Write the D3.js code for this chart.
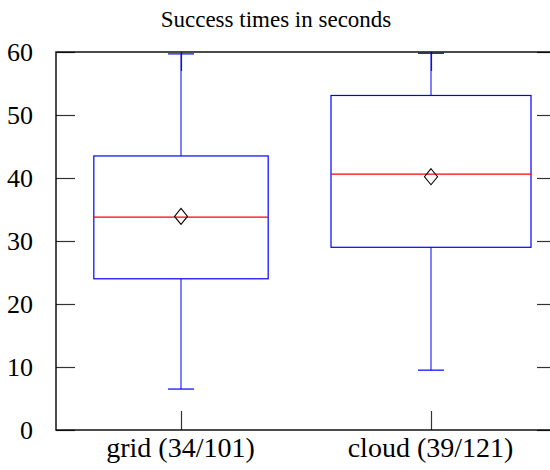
<!DOCTYPE html>
<html>
<head>
<meta charset="utf-8">
<script src="https://cdn.jsdelivr.net/npm/d3@7"></script>
<style>
  body { margin: 0; background: #fff; }
  svg text { font-family: "Liberation Serif", "DejaVu Serif", serif; }
</style>
</head>
<body>
<svg id="chart" width="550" height="470"></svg>
<script>
// Success times (seconds) per environment
const categories = ["grid", "cloud"];
const successes  = [34, 39];
const attempts   = [101, 121];
const whiskerLow  = [6.5, 9.5];
const quartile1   = [24.0, 29.0];
const medians     = [33.8, 40.6];
const quartile3   = [43.5, 53.1];
const whiskerHigh = [59.7, 59.8];
const means       = [33.9, 40.2];
const yTicks = [0, 10, 20, 30, 40, 50, 60];

const svg = d3.select("#chart");
const plotLeft = 56, plotRight = 556, plotTop = 52, plotBottom = 430;

const x = d3.scaleLinear().domain([0.5, categories.length + 0.5]).range([plotLeft, plotRight]);
const y = d3.scaleLinear().domain([0, 60]).range([plotBottom, plotTop]);

// box width scales with the number of successful runs
const maxN = d3.max(successes);
const boxHalf = i => 0.4 * successes[i] / maxN;
const capHalf = 0.052;

const data = categories.map((c, i) => ({
  i, pos: i + 1,
  label: `${c} (${successes[i]}/${attempts[i]})`,
  lo: whiskerLow[i], q1: quartile1[i], med: medians[i],
  q3: quartile3[i], hi: whiskerHigh[i], mean: means[i]
}));

// title
svg.append("text")
  .attr("x", 276).attr("y", 27)
  .attr("text-anchor", "middle")
  .attr("font-size", 23)
  .text("Success times in seconds");

// axes (ticks point inward)
const tickLen = 19;
const gl = svg.append("g").attr("transform", `translate(${plotLeft},0)`)
  .call(d3.axisLeft(y).tickValues(yTicks).tickSizeInner(-tickLen).tickSizeOuter(0).tickPadding(23));
const gr = svg.append("g").attr("transform", `translate(${plotRight},0)`)
  .call(d3.axisRight(y).tickValues(yTicks).tickSizeInner(-tickLen).tickSizeOuter(0).tickFormat(""));
const gb = svg.append("g").attr("transform", `translate(0,${plotBottom})`)
  .call(d3.axisBottom(x).tickValues(data.map(d => d.pos)).tickSizeInner(-tickLen).tickSizeOuter(0)
    .tickFormat((v, k) => data[k].label));
const gt = svg.append("g").attr("transform", `translate(0,${plotTop})`)
  .call(d3.axisTop(x).tickValues(data.map(d => d.pos)).tickSizeInner(-tickLen).tickSizeOuter(0).tickFormat(""));

[gl, gr, gb, gt].forEach(g => {
  g.select(".domain").remove();
  g.selectAll(".tick line").attr("stroke", "#333").attr("stroke-width", 1.2);
});
gl.selectAll(".tick text").attr("font-size", 26).attr("fill", "#000").attr("dy", "0.31em");
gb.selectAll(".tick text").attr("font-size", 28).attr("fill", "#000")
  .attr("y", 27).attr("dy", 0).attr("x", -1);

const blue = "#0000ff";

const boxes = svg.append("g").selectAll("g").data(data).join("g");

// whiskers
boxes.append("line")
  .attr("x1", d => x(d.pos)).attr("x2", d => x(d.pos))
  .attr("y1", d => y(d.q3)).attr("y2", d => y(d.hi))
  .attr("stroke", blue).attr("stroke-width", 1);
boxes.append("line")
  .attr("x1", d => x(d.pos)).attr("x2", d => x(d.pos))
  .attr("y1", d => y(d.q1)).attr("y2", d => y(d.lo))
  .attr("stroke", blue).attr("stroke-width", 1);
boxes.append("line")
  .attr("x1", d => x(d.pos - capHalf)).attr("x2", d => x(d.pos + capHalf))
  .attr("y1", d => y(d.hi)).attr("y2", d => y(d.hi))
  .attr("stroke", blue).attr("stroke-width", 1.2);
boxes.append("line")
  .attr("x1", d => x(d.pos - capHalf)).attr("x2", d => x(d.pos + capHalf))
  .attr("y1", d => y(d.lo)).attr("y2", d => y(d.lo))
  .attr("stroke", blue).attr("stroke-width", 1.2);

// boxes
boxes.append("rect")
  .attr("x", d => x(d.pos - boxHalf(d.i)))
  .attr("width", d => x(d.pos + boxHalf(d.i)) - x(d.pos - boxHalf(d.i)))
  .attr("y", d => y(d.q3))
  .attr("height", d => y(d.q1) - y(d.q3))
  .attr("fill", "none").attr("stroke", blue).attr("stroke-width", 1.2);

// medians
boxes.append("line")
  .attr("x1", d => x(d.pos - boxHalf(d.i))).attr("x2", d => x(d.pos + boxHalf(d.i)))
  .attr("y1", d => y(d.med)).attr("y2", d => y(d.med))
  .attr("stroke", "#ff0000").attr("stroke-width", 1.2);

// means as diamonds
boxes.append("path")
  .attr("d", d => {
    const cx = x(d.pos), cy = y(d.mean);
    return `M${cx},${cy - 8}L${cx + 6.5},${cy}L${cx},${cy + 8}L${cx - 6.5},${cy}Z`;
  })
  .attr("fill", "none").attr("stroke", "#000").attr("stroke-width", 1.1);

// frame
svg.append("rect")
  .attr("x", plotLeft).attr("y", plotTop)
  .attr("width", plotRight - plotLeft).attr("height", plotBottom - plotTop)
  .attr("fill", "none").attr("stroke", "#000").attr("stroke-width", 1.4);
</script>
</body>
</html>
